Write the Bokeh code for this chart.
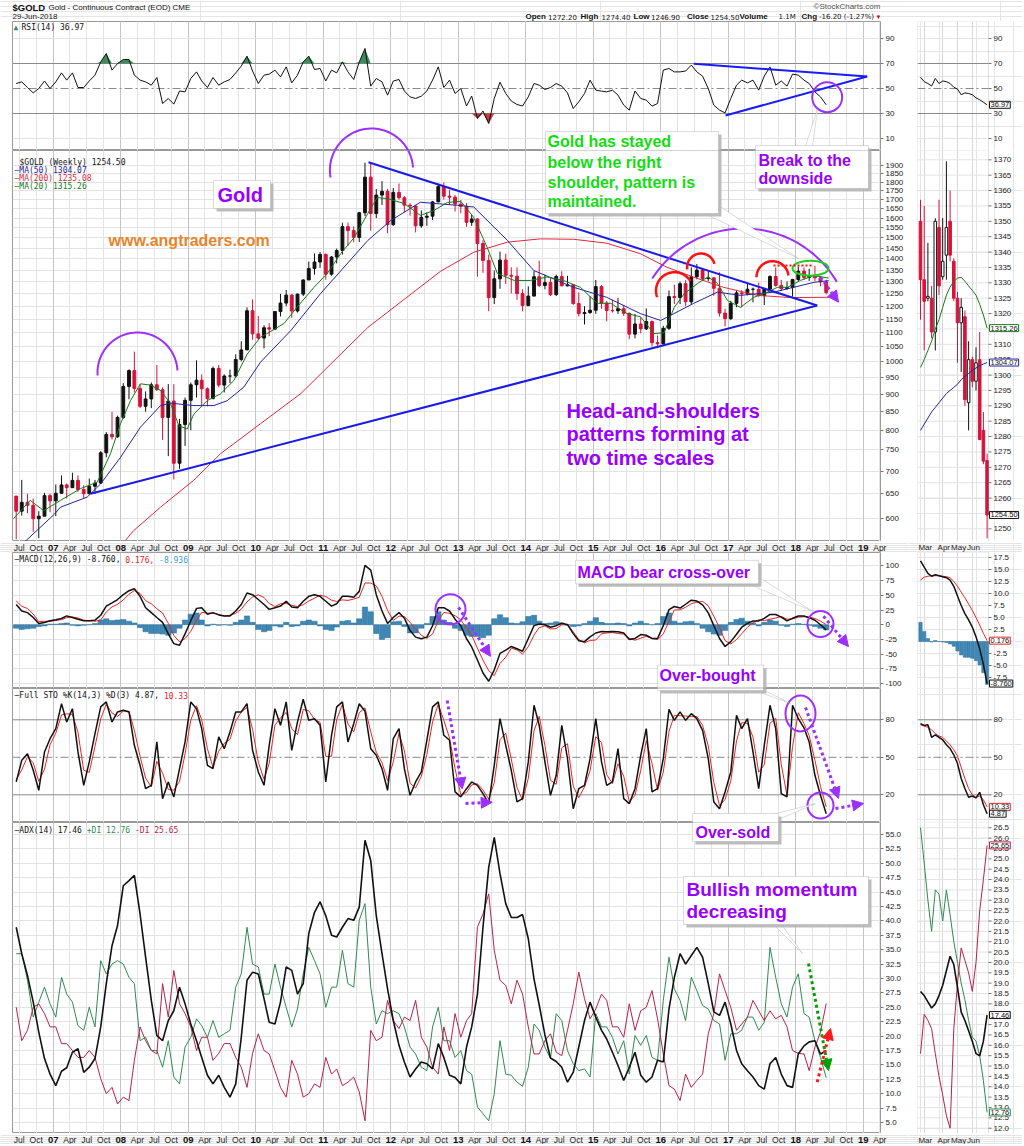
import math
import numpy as np
import pandas as pd
from bokeh.plotting import figure
from bokeh.layouts import column, row
from bokeh.models import (Range1d, FixedTicker, PrintfTickFormatter, Label, LabelSet,
                          BoxAnnotation, PolyAnnotation, Arrow, NormalHead, Span, Grid,
                          ColumnDataSource)
from bokeh.core.properties import value
from bokeh.embed import file_html
from bokeh.resources import INLINE

# ===================== DATA =====================
month_start = "2006-06-01"   # monthly samples, Jun 2006 .. Jun 2018

gold_first_open = 645.0
gold_close = [614, 632, 626, 599, 604, 646, 635,
              651, 669, 663, 679, 659, 650, 666, 673, 743, 789, 783, 834,
              923, 972, 917, 865, 886, 928, 913, 834, 880, 718, 815, 882,
              928, 942, 916, 887, 979, 927, 955, 955, 1008, 1040, 1182, 1096,
              1081, 1118, 1113, 1179, 1212, 1244, 1181, 1248, 1307, 1357, 1386, 1421,
              1332, 1409, 1439, 1556, 1536, 1502, 1628, 1829, 1624, 1725, 1746, 1566,
              1740, 1710, 1669, 1664, 1560, 1604, 1610, 1687, 1774, 1719, 1713, 1675,
              1663, 1578, 1595, 1472, 1393, 1234, 1312, 1395, 1327, 1323, 1250, 1202,
              1240, 1321, 1284, 1296, 1246, 1322, 1282, 1287, 1210, 1171, 1175, 1184,
              1279, 1212, 1183, 1182, 1190, 1172, 1095, 1132, 1114, 1141, 1065, 1061,
              1116, 1238, 1234, 1291, 1217, 1321, 1350, 1313, 1316, 1272, 1173, 1152,
              1211, 1253, 1249, 1268, 1268, 1242, 1269, 1322, 1284, 1271, 1275, 1309,
              1345, 1318, 1325, 1316, 1299, 1254.5]
gold_high = [645, 680, 650, 640, 614, 652, 650,
             670, 690, 672, 696, 690, 668, 683, 680, 747, 795, 849, 839,
             933, 976, 1034, 930, 908, 935, 990, 920, 930, 930, 830, 890,
             935, 1005, 960, 920, 985, 990, 960, 975, 1025, 1070, 1195, 1227,
             1162, 1127, 1135, 1180, 1249, 1265, 1248, 1250, 1310, 1388, 1425, 1432,
             1425, 1413, 1448, 1576, 1577, 1557, 1633, 1917, 1923, 1760, 1805, 1760,
             1765, 1792, 1720, 1680, 1670, 1640, 1630, 1692, 1790, 1798, 1755, 1725,
             1697, 1680, 1617, 1600, 1488, 1420, 1348, 1434, 1424, 1362, 1362, 1268,
             1280, 1345, 1392, 1330, 1315, 1330, 1345, 1325, 1290, 1255, 1200, 1240,
             1307, 1285, 1220, 1225, 1232, 1205, 1175, 1170, 1157, 1191, 1145, 1090,
             1125, 1263, 1287, 1300, 1306, 1362, 1377, 1360, 1345, 1320, 1340, 1190,
             1221, 1264, 1264, 1296, 1275, 1296, 1272, 1327, 1362, 1307, 1301, 1312,
             1366, 1362, 1356, 1369, 1322, 1308]
gold_low = [560, 605, 610, 574, 562, 604, 612,
            604, 650, 640, 663, 654, 640, 650, 650, 671, 732, 776, 780,
            830, 885, 905, 860, 850, 860, 910, 775, 735, 681, 705, 760,
            800, 890, 865, 865, 885, 920, 905, 933, 950, 1002, 1044, 1075,
            1075, 1045, 1088, 1110, 1160, 1200, 1155, 1175, 1240, 1307, 1330, 1360,
            1308, 1325, 1380, 1420, 1462, 1478, 1480, 1610, 1535, 1600, 1670, 1523,
            1560, 1700, 1630, 1613, 1527, 1550, 1560, 1590, 1685, 1700, 1670, 1635,
            1625, 1555, 1560, 1321, 1338, 1180, 1208, 1270, 1290, 1251, 1225, 1180,
            1200, 1240, 1277, 1268, 1240, 1240, 1282, 1280, 1205, 1160, 1130, 1170,
            1170, 1190, 1142, 1175, 1170, 1162, 1077, 1080, 1098, 1110, 1052, 1046,
            1058, 1110, 1208, 1208, 1200, 1208, 1310, 1305, 1302, 1241, 1160, 1123,
            1146, 1196, 1195, 1243, 1215, 1237, 1204, 1262, 1278, 1260, 1266, 1238,
            1302, 1307, 1303, 1302, 1281, 1247]

ma20_dates = [2006.41, 2006.66, 2006.86, 2007.108, 2007.404, 2007.652, 2007.849, 2007.997,
              2008.145, 2008.293, 2008.441, 2008.59, 2008.738, 2008.861, 2008.985, 2009.083,
              2009.281, 2009.479, 2009.676, 2009.874, 2010.071, 2010.17, 2010.42, 2010.61,
              2010.86, 2011.06, 2011.26, 2011.46, 2011.66, 2011.8, 2011.95, 2012.2, 2012.44,
              2012.64, 2012.84, 2013.04, 2013.23, 2013.43, 2013.58, 2013.83, 2014.07, 2014.32,
              2014.56, 2014.81, 2015.06, 2015.26, 2015.5, 2015.7, 2015.9, 2016.05, 2016.2,
              2016.35, 2016.55, 2016.7, 2016.84, 2016.99, 2017.18, 2017.38, 2017.58, 2017.73,
              2017.88, 2018.07, 2018.27, 2018.49]
ma20_vals = [599, 636, 615, 636, 661, 675, 741, 817,
             881, 931, 927, 911, 873, 812, 803, 843,
             881, 901, 941, 1026, 1084, 1097, 1134, 1195,
             1275, 1335, 1425, 1502, 1624, 1711, 1705, 1678, 1614,
             1640, 1684, 1690, 1604, 1453, 1335, 1305, 1305, 1320,
             1305, 1276, 1211, 1211, 1171, 1159, 1097, 1100, 1195,
             1250, 1293, 1320, 1293, 1222, 1195, 1235, 1256, 1276,
             1276, 1305, 1326, 1315.26]
ma50_dates = [2006.556, 2007.01, 2007.108, 2007.504, 2007.701, 2007.997, 2008.293, 2008.59,
              2008.738, 2009.083, 2009.379, 2009.578, 2009.824, 2010.071, 2010.52, 2010.96,
              2011.66, 2012.0, 2012.44, 2012.99, 2013.23, 2013.73, 2014.12, 2014.71, 2015.2,
              2015.7, 2016.0, 2016.49, 2016.84, 2017.18, 2017.67, 2017.97, 2018.27, 2018.49]
ma50_vals = [553, 607, 622, 643, 671, 732, 808, 867,
             874, 867, 867, 881, 921, 999, 1108, 1250,
             1487, 1587, 1685, 1668, 1659, 1487, 1348, 1276, 1235,
             1171, 1145, 1211, 1256, 1243, 1256, 1276, 1297, 1304.07]
ma200_dates = [2008.07, 2008.19, 2008.59, 2009.08, 2009.48, 2010.07, 2010.67, 2011.66, 2012.74,
               2013.23, 2013.73, 2014.22, 2014.71, 2015.2, 2015.7, 2016.09, 2016.49, 2016.93,
               2017.43, 2017.92, 2018.49]
ma200_vals = [558, 576, 622, 679, 741, 817, 902, 1119, 1345,
              1431, 1479, 1495, 1493, 1474, 1424, 1363, 1319, 1276,
              1243, 1234, 1235.08]

rsi14 = [54, 55.3, 50.8, 46.5, 50, 56, 50, 55.3, 62.5, 56.7,
         62.5, 50.8, 50.8, 56, 60.7, 71.3, 78, 64.7, 70, 73.2,
         73.2, 60.7, 56.7, 55.3, 52.7, 58.8, 38, 42, 37.5, 48,
         47.3, 58, 63.3, 56, 50.8, 58.8, 52.7, 55.3, 57.2, 62.5,
         67.9, 75.9, 64, 54, 60.7, 61.5, 64.7, 59.3, 67.3, 54.5,
         60.7, 71.3, 75.9, 65.2, 66, 56, 64.7, 62.5, 71.3, 63.3,
         57.2, 71.3, 82, 51.9, 58, 55.3, 44.7, 56, 57.2, 48,
         43.3, 42, 43.9, 48, 56.7, 67.3, 50.8, 56.7, 46, 50,
         36, 44, 26, 32, 22, 42, 55, 46, 40, 37.2,
         36, 43.3, 54, 52.7, 49.2, 50.8, 54, 51.9, 46.5, 34,
         39.3, 46, 56.7, 48.7, 47.9, 47.3, 48.7, 44.7, 36.7, 32.7,
         48, 42, 40.7, 35.9, 38, 64.7, 66, 63.3, 63.3, 64,
         68.7, 63.3, 59.9, 50, 36.7, 32.7, 30.5, 42, 52.7, 56.7,
         54.5, 56.7, 48.7, 59.9, 67.3, 52.7, 56, 51.9, 61.5, 60.7,
         56.7, 54, 47.3, 43.3, 36.97]

macd_line = [34.4, 23.3, 20.6, 12.2, 2.2, 3.9, 6.7, 8.3, 10.6, 15,
             12.2, 9.4, 6.7, 6.7, 7.8, 16.1, 31.7, 37.2, 42.8, 51.1,
             57.8, 61.1, 48.3, 28.9, 20.6, 12.2, 3.9, -15.6, -32.2, -35,
             -15.6, 6.7, 27.8, 28.9, 17.8, 20.6, 16.7, 15, 15, 23.3,
             34.4, 53.9, 51.1, 42.8, 34.4, 26.1, 28.9, 31.7, 40, 30,
             28.9, 40, 48.3, 51.1, 48.3, 40, 31.7, 35.6, 48.3, 48.3,
             46.7, 56.7, 101, 92.8, 51.1, 23.3, 2.2, 12.2, 20.6, 11.1,
             -10, -21.1, -23.9, -21.1, -1.7, 28.9, 28.9, 23.3, 9.4, -1.7,
             -23.9, -37.8, -60, -82.2, -96.1, -76.7, -48.9, -43.3, -37, -40.8,
             -45.1, -23.4, -1.6, 1.1, 0, -4.3, -1.6, 2.7, 0, -15.2,
             -27.2, -28.8, -20.7, -14.1, -11.4, -12, -11.4, -12, -14.1, -25,
             -23.4, -16.8, -17.9, -23.4, -23.4, -1.6, 25.5, 31, 28.3, 34.8,
             41.8, 40.2, 33.7, 20.1, -1.6, -23.4, -37, -28.8, -16.3, -4.3,
             2.2, 6.5, 6.5, 10.9, 17.4, 17.4, 13, 6.5, 10.9, 14.7,
             14.7, 12, 7.6, 0, -8.76]
macd_signal = [40.4, 31.3, 27.6, 18.2, 5.2, 5.9, 5.7, 7.3, 8.6, 12,
               13.2, 11.4, 7.7, 6.7, 5.8, 8.1, 21.7, 30.2, 34.8, 42.1,
               51.8, 58.1, 53.3, 40.9, 35.6, 27.2, 19.9, 2.4, -18.2, -29,
               -23.6, -11.3, 7.8, 20.9, 19.8, 19.6, 17.7, 15, 16, 19.3,
               26.4, 38.9, 47.1, 50.8, 46.4, 36.1, 30.9, 35.7, 36, 33,
               30.9, 34, 40.3, 45.1, 50.3, 48, 41.7, 39.6, 42.3, 41.3,
               43.7, 46.7, 71, 70.8, 66.1, 48.3, 24.2, 7.2, 14.6, 14.1,
               4, -7.1, -17.9, -23.1, -15.7, 6.9, 20.9, 19.3, 15.4, 8.3,
               -5.9, -17.8, -40, -60.2, -78.1, -86.7, -65.9, -55.3, -40, -42.8,
               -50.1, -37.4, -17.6, -4.9, -2, -7.3, -6.6, -0.3, 1, -12.2,
               -25.2, -30.8, -26.7, -26.1, -15.4, -14, -13.4, -15, -16.1, -23,
               -26.4, -22.8, -19.9, -23.4, -25.4, -15.6, 5.5, 25, 25.3, 29.8,
               35.8, 38.2, 39.7, 32.1, 14.4, -5.4, -27, -32.8, -25.3, -15.3,
               -4.4, 3.5, 8.5, 6.9, 9.4, 11.4, 14, 9.5, 9.9, 12.7,
               13.7, 13, 10.6, 6, 0.176]
macd_hist = [-6, -8, -7, -6, -3, -2, 1, 1, 2, 3,
             -1, -2, -1, 0, 2, 8, 10, 7, 8, 9,
             6, 3, -5, -12, -15, -15, -16, -18, -14, -6,
             8, 18, 20, 8, -2, 1, -1, 0, -1, 4,
             8, 15, 4, -8, -12, -10, -2, -4, 4, -3,
             -2, 6, 8, 6, -2, -8, -10, -4, 6, 7,
             3, 10, 30, 22, -15, -25, -22, 5, 6, -3,
             -14, -14, -6, 2, 14, 22, 8, 4, -6, -10,
             -18, -20, -20, -22, -18, 10, 17, 12, 3, 2,
             5, 14, 16, 6, 2, 3, 5, 3, -1, -3,
             -2, 2, 6, 12, 4, 2, 2, 3, 2, -2,
             3, 6, 2, 0, 2, 14, 20, 6, 3, 5,
             6, 2, -6, -12, -16, -18, -10, 4, 9, 11,
             6, 3, -2, 4, 8, 6, -1, -3, 1, 2,
             1, -1, -3, -6, -8.936]

sto_k = [30.3, 47.6, 52.9, 39.6, 23.6, 54.3, 64.9, 72.9, 92.9, 78.3,
         88.9, 54.3, 27.6, 46.3, 68.9, 90.3, 94.3, 78.3, 86.3, 87.6,
         86.3, 59.6, 43.6, 24.9, 27.6, 62.3, 16.9, 30.3, 18.3, 40.9,
         62.3, 94.3, 88.9, 72.9, 43.6, 40.9, 66.3, 56.9, 70.3, 86.3,
         86.3, 92.9, 55.6, 38.3, 27.6, 59.6, 88.9, 75.6, 94.3, 55.6,
         78.3, 96.4, 79.6, 80.9, 75.6, 30.3, 67.6, 90.3, 94.3, 62.3,
         76.9, 92.9, 86.8, 56.9, 51.6, 40.9, 23.6, 64.9, 72.9, 40.9,
         19.6, 30.3, 38.3, 63.6, 90.3, 94.3, 67.6, 63.6, 22.3, 18.3,
         24.9, 30.3, 27.6, 20.9, 12.9, 43.6, 80.9, 59.6, 39.6, 14.3,
         16.9, 46.3, 91.6, 75.6, 46.3, 19.6, 35.6, 75.6, 48.9, 8.9,
         24.9, 27.6, 48.9, 80.9, 46.3, 27.6, 30.3, 56.9, 16.9, 12.9,
         24.9, 51.6, 72.9, 22.3, 24.9, 48.9, 88.4, 79.6, 86.3, 79.6,
         84.9, 80.9, 71.6, 48.9, 14.3, 8.9, 22.3, 38.3, 83.6, 72.9,
         80.9, 54.3, 24.9, 59.6, 91.6, 72.9, 20.9, 18.3, 91.6, 80.9,
         73.5, 62.3, 35.6, 19.6, 4.87]
sto_d = [32, 40, 50.5, 45.6, 30.8, 40.5, 60.1, 69.3, 83.9, 84.8,
         84.3, 69.9, 39.6, 37.9, 58.7, 80.7, 92.5, 85.5, 82.7, 87,
         86.9, 71.6, 50.8, 33.3, 26.4, 46.7, 37.3, 24.3, 23.7, 30.7,
         52.7, 79.9, 91.3, 80.1, 56.8, 42.1, 54.9, 61.2, 64.3, 79.1,
         86.3, 89.9, 72.4, 46.1, 32.4, 45.2, 75.7, 81.6, 85.9, 73,
         68.1, 88.3, 87.2, 80.3, 78, 50.7, 50.8, 80.1, 92.5, 76.7,
         70.3, 85.7, 89.6, 70.4, 54, 45.7, 31.4, 46.3, 69.3, 55.3,
         29.2, 25.5, 34.7, 52.2, 78.3, 92.5, 79.6, 65.4, 40.9, 20.1,
         21.9, 27.9, 28.8, 23.9, 16.5, 29.8, 64.1, 69.2, 48.6, 25.7,
         15.7, 33.1, 71.2, 82.8, 59.5, 31.6, 28.4, 57.6, 60.9, 26.9,
         17.7, 26.4, 39.3, 66.5, 61.9, 36, 29.1, 44.9, 34.9, 14.7,
         19.5, 39.6, 63.3, 45, 23.7, 38.1, 70.6, 83.6, 83.3, 83,
         82.5, 82.7, 75.6, 59.1, 29.9, 11.3, 16.3, 31.1, 63.2, 77.7,
         77.3, 66.3, 38.1, 44, 77.2, 81.3, 44.3, 19.5, 58.6, 85.7,
         76.9, 67.4, 47.6, 26.8, 10.33]

adx14 = [38.9, 34.3, 30.5, 25.9, 20.7, 16.1, 13.4, 11.4, 13.9, 14.5,
         17.2, 17.8, 13.7, 14.6, 16.1, 21.6, 29.1, 35.7, 39.2, 46.1,
         47, 47.9, 41.2, 33.7, 26.2, 20.1, 19.2, 22.7, 24.4, 28.5,
         25.6, 22.1, 19.2, 16.3, 13.2, 11.7, 13.2, 11.1, 9.4, 11.7,
         19.8, 29.7, 31.1, 30.8, 26.5, 22.4, 22.1, 25.9, 32, 31.4,
         27.3, 29.1, 37.8, 41.5, 43.3, 40.9, 37.5, 37.2, 38.9, 40.4,
         40.1, 42.4, 54, 50.5, 40.9, 34.3, 28.2, 22.7, 18.4, 15.5,
         12.9, 14.3, 15.5, 15.2, 14.3, 18.7, 16.3, 13.2, 12.8, 11.7,
         18.1, 21.6, 27.3, 38.9, 49.3, 54.5, 48.2, 43, 40.6, 40.6,
         41.1, 36.9, 29.9, 25.4, 20.2, 16.2, 15.6, 14.6, 12, 13.7,
         18.1, 22.7, 25.9, 23.3, 21, 19.5, 17.2, 14.9, 12.3, 14.6,
         17.2, 13.2, 12, 12.9, 15.8, 15.5, 24.7, 30.2, 34.3, 32.5,
         34, 35.4, 33.7, 29.1, 24.2, 23.6, 25.9, 22.1, 17.5, 15.2,
         14, 12.9, 11.4, 10.8, 15.2, 16.3, 13.4, 11.4, 11.1, 16.9,
         18.3, 19, 19.2, 16.9, 17.46]
plus_di = [34.3, 34.3, 29.7, 23.3, 25.9, 28.5, 25.6, 23.3, 30.2, 27.3,
           25.9, 21.8, 21, 25, 21.6, 33.1, 30.8, 32.5, 33.1, 32.5,
           30.2, 29.1, 19.2, 19.8, 17.5, 17.5, 14.6, 19.2, 12.9, 11.7,
           18.1, 19.8, 23, 21.8, 19.8, 22.7, 19.8, 20.4, 21, 28.5,
           30.8, 38.9, 32.5, 32, 27.3, 27.3, 32.5, 28.5, 25, 21.6,
           24.7, 30.8, 35.4, 33.1, 30.8, 25, 28.5, 28.5, 34.9, 29.1,
           28.5, 40.1, 43, 28.5, 22.1, 24.4, 23.9, 24.4, 23.9, 21.6,
           18.1, 16.9, 14.6, 14, 21.6, 25, 19.2, 19.2, 16.3, 17.5,
           14, 13.4, 7.7, 6.5, 5.3, 10, 19.2, 13.4, 13.2, 12,
           11.3, 14.6, 22.1, 21, 18.1, 16.1, 23.9, 22.7, 17.5, 15.2,
           14, 14.3, 12.9, 23.9, 21.6, 21.6, 19.8, 16.9, 19.2, 13.4,
           20.1, 18.4, 20.1, 16.3, 15.8, 26.2, 33.7, 28.2, 26.2, 22.7,
           30.2, 27.9, 25.3, 24.7, 22.7, 22.1, 15.8, 20.4, 20.4, 21,
           23.3, 23.3, 21, 22.4, 35.4, 30.2, 25.6, 23.3, 28.5, 30.8,
           23.9, 23.3, 19.2, 16.3, 12.76]
minus_di = [25, 19.2, 21, 25, 25.6, 23.9, 21.6, 21.6, 18.7, 18.7,
            17.5, 16.3, 16.3, 17.5, 16.3, 12.6, 10, 11.1, 8.2, 9.4,
            8.8, 15.8, 21.6, 19.2, 17.5, 16.9, 29.1, 23.3, 31.4, 25.6,
            23.9, 21.6, 17.5, 19.8, 19.8, 15.8, 17, 18.7, 18.7, 16.3,
            14.6, 11.1, 17, 20.4, 17.5, 16.9, 14, 11.1, 9.4, 15.8,
            13.4, 9.4, 10, 11.7, 11.1, 16.3, 13.4, 14.3, 11.4, 12,
            12.9, 10.3, 5.3, 21, 19.2, 19.8, 26.2, 22.7, 21.3, 23.3,
            22.7, 26.2, 19.8, 18.1, 14.6, 13.4, 21.6, 17.5, 23.9, 19.8,
            22.7, 23.9, 38.9, 41.2, 44.7, 34.9, 29.7, 28.8, 25.6, 29.7,
            27.3, 21.6, 16.9, 16.9, 19.2, 20.4, 17.2, 16.6, 21, 25.6,
            31.1, 26.5, 23, 24.7, 27.3, 26.2, 21.6, 21.6, 19.8, 25.6,
            21, 24.4, 25, 27.9, 23, 16.9, 11.4, 10.8, 8.8, 13.4,
            11.1, 12.3, 13.4, 20.4, 23.9, 30.8, 27.9, 25, 21, 22.1,
            23.3, 26.2, 24.4, 22.7, 24.4, 23, 23.6, 21.6, 17.5, 17,
            16.9, 14, 18.1, 20.7, 25.65]

# ---- right-hand zoom panel: last 19 weekly bars (23-Feb-2018 .. 29-Jun-2018) ----
wk_open = [1350, 1331, 1325, 1325, 1314, 1348, 1332, 1339, 1350, 1337, 1325, 1317, 1319, 1291, 1305, 1298, 1305, 1282, 1272.2]
wk_high = [1357, 1355, 1343, 1329, 1351, 1357, 1351, 1369.5, 1360, 1338, 1327, 1325, 1321, 1311, 1306, 1309, 1314, 1288, 1274.4]
wk_low = [1318, 1308, 1324, 1312, 1308, 1326, 1331, 1331, 1337, 1324, 1304, 1301, 1290, 1282, 1296, 1295, 1279, 1271, 1246.9]
wk_close = [1331, 1324, 1325.6, 1314, 1350, 1329, 1337, 1348, 1339, 1325, 1317, 1322, 1292, 1305, 1298, 1304, 1279, 1272, 1254.5]
wk_ma20 = [1302.5, 1305, 1308, 1311, 1315, 1318, 1322, 1326, 1328.6, 1330.5, 1331.5, 1331.8, 1330.5, 1329, 1327.5, 1326, 1323, 1319.5, 1315.26]
wk_ma50 = [1282, 1284, 1286, 1288, 1289.5, 1291, 1292.5, 1294, 1295, 1296, 1297, 1298.5, 1299.5, 1300.5, 1301.5, 1302.3, 1303, 1303.6, 1304.07]
wk_rsi = [59, 55.5, 54, 52, 58, 54, 56, 55.5, 54, 51, 49.5, 45, 46.5, 46, 45, 42.5, 41, 39, 36.97]
wk_macd = [16.8, 15.5, 14.2, 13.6, 13.9, 13.7, 13.5, 13.3, 12.8, 11.5, 9.5, 7.5, 5.8, 4.5, 3.0, 1.0, -1.5, -4.8, -8.76]
wk_signal = [12.8, 13.4, 13.6, 13.7, 13.7, 13.7, 13.6, 13.5, 13.3, 12.5, 11.5, 10.3, 9.1, 7.8, 6.5, 5.0, 3.4, 1.7, 0.176]
wk_hist = [4.0, 2.1, 0.6, -0.1, 0.2, 0.0, -0.1, -0.2, -0.5, -1.0, -2.0, -2.8, -3.3, -3.3, -3.5, -4.0, -4.9, -6.5, -8.936]
wk_k = [77, 75.5, 76, 66, 68, 66, 64, 60, 57, 52, 45, 33, 25, 18, 19, 17.5, 22, 12, 4.87]
wk_d = [76, 75, 74, 72, 69, 67, 66, 63, 60, 56, 51, 42, 33, 25, 20, 18, 19, 16, 10.33]
wk_adx = [18.6, 18.4, 18.1, 17.8, 18.0, 18.4, 18.9, 19.6, 20.3, 19.9, 18.8, 17.6, 17.2, 16.7, 16.2, 15.6, 15.5, 16.2, 17.46]
wk_pdi = [26.5, 24.8, 23, 21.5, 23.5, 23.3, 22, 23.5, 22.3, 21, 20, 19, 18.2, 17.2, 16.4, 16.2, 15.5, 14.3, 12.76]
wk_mdi = [15.6, 17.5, 17.2, 16.8, 15.6, 14.5, 13.6, 12.6, 12.0, 16.8, 19.0, 20.7, 20.1, 19.5, 18.6, 20.0, 22.5, 24.0, 25.65]

# ---- tick labels ----
price_ticks = list(range(600, 1901, 50))
zoom_price_ticks = list(range(1250, 1371, 5))
rsi_ticks = [10, 30, 50, 70, 90]
macd_ticks = [-100, -75, -50, -25, 0, 25, 50, 75, 100]
sto_ticks = [20, 50, 80]
adx_ticks = [5.0, 7.5, 10.0, 12.5, 15.0, 17.5, 20.0, 22.5, 25.0, 27.5, 30.0, 32.5, 35.0, 37.5,
             40.0, 42.5, 45.0, 47.5, 50.0, 52.5, 55.0]
zoom_macd_ticks = [-7.5, -5.0, -2.5, 2.5, 5.0, 7.5, 10.0, 12.5, 15.0, 17.5]
zoom_adx_ticks = [12.0, 12.5, 13.0, 13.5, 14.0, 14.5, 15.0, 15.5, 16.0, 16.5, 17.0, 17.5, 18.0, 18.5,
                  19.0, 19.5, 20.0, 20.5, 21.0, 21.5, 22.0, 22.5, 23.0, 23.5, 24.0, 24.5, 25.0,
                  25.5, 26.0, 26.5]
month_names = ["Apr", "Jul", "Oct"]
year_labels = ["07", "08", "09", "10", "11", "12", "13", "14", "15", "16", "17", "18", "19"]
zoom_month_labels = ["Mar", "Apr", "May", "Jun"]
zoom_month_weeks = [1, 6, 10, 14]

for arr in (gold_high, gold_low, rsi14, macd_line, macd_signal, macd_hist, sto_k, sto_d,
            adx14, plus_di, minus_di):
    assert len(arr) == len(gold_close), len(arr)

# ===================== helpers =====================
def dec_year(ts):
    a = pd.Timestamp(ts.year, 1, 1)
    b = pd.Timestamp(ts.year + 1, 1, 1)
    return ts.year + (ts - a) / (b - a)

months = pd.date_range(month_start, periods=len(gold_close), freq="MS")
mx = np.array([dec_year(m + pd.Timedelta(days=14)) for m in months])
wx = list(range(len(wk_close)))

# reference-pixel -> data coordinate maps (used only to place annotations)
def yr(px): return 2007.0 + (px - 52.7) / 67.5
def pr(py): return 1900.0 * math.exp(-(py - 165.0) / 306.0)
def rs(py): return (150.5 - py) / 1.25
def mc(py): return (625.7 - py) / 0.6
def st(py): return (819.3 - py) / 1.25
def ad(py): return 5.0 + (1122.0 - py) / 5.76
def zp(py): return 1370.0 - (py - 159.3) / 3.075
def zm(py): return (641.0 - py) / 4.8
def za(py): return 12.0 + (1127.7 - py) / 20.72
def wk(px): return (px - 920.0) / 3.7

# page geometry (the page has no body margin, so page px == reference px)
W_MAIN, W_ZOOM = 908, 114
BL_M, BR_M = 12, 28
H_HEAD = 21
H_RSI, H_PRICE, H_STRIP1, H_MACD, H_STO, H_ADX, H_STRIP2 = 129, 391, 11, 136, 134, 311, 11

XR = Range1d(yr(12.0), yr(880.0))
ZX0, ZX1 = wk(917.0), wk(988.0)
ZR = Range1d(wk(917.0), wk(1022.0))

RSI_Y = (rs(150.0), rs(21.0))
PRICE_Y = (pr(541.0), pr(150.0))
MACD_Y = (-108.5, mc(552.0))
STO_Y = (st(822.0), st(688.0))
ADX_Y = (ad(1133.0), ad(822.0))
ZP_Y = (zp(541.0), zp(150.0))
ZM_Y = (zm(688.0), zm(552.0))
ZA_Y = (za(1133.0), za(822.0))

FONT = "Liberation Sans"
HFONT = "DejaVu Sans"
MONO = "DejaVu Sans Mono"
PURPLE = "#9900ff"
ARC_PURPLE = "#9b30ff"
GRID = "#e3e3e3"


def bare(width, height, xr, yrange, bl=0, br=0):
    p = figure(width=width, height=height, x_range=xr, y_range=Range1d(*yrange),
               x_axis_location=None, y_axis_location=None,
               output_backend="svg", toolbar_location=None,
               min_border_left=bl, min_border_right=br, min_border_top=0, min_border_bottom=0)
    p.outline_line_color = None
    p.background_fill_color = "white"
    p.border_fill_color = "white"
    return p


def panel(frame_h, yrange, ticks, fmt, log=False):
    p = figure(width=W_MAIN, height=frame_h, x_range=XR, y_range=Range1d(*yrange),
               y_axis_type="log" if log else "linear",
               x_axis_location=None, y_axis_location="right",
               output_backend="svg", toolbar_location=None,
               min_border_left=BL_M, min_border_right=BR_M, min_border_top=0, min_border_bottom=0)
    p.outline_line_color = "#9a9a9a"
    p.background_fill_color = "white"
    p.border_fill_color = "white"
    ax = p.yaxis[0]
    ax.ticker = FixedTicker(ticks=ticks, minor_ticks=[])
    ax.formatter = PrintfTickFormatter(format=fmt)
    ax.axis_line_color = None
    ax.major_tick_line_color = "#777777"
    ax.major_tick_in = 0
    ax.major_tick_out = 3
    ax.minor_tick_line_color = None
    ax.major_label_text_font = FONT
    ax.major_label_text_font_size = "8px"
    ax.major_label_text_color = "#222222"
    ax.major_label_standoff = 2
    p.ygrid.grid_line_color = GRID
    p.add_layout(Grid(dimension=0, ticker=FixedTicker(ticks=q_pos), grid_line_color=GRID))
    p.add_layout(Grid(dimension=0, ticker=FixedTicker(ticks=y_pos), grid_line_color="#c4c4c4"))
    return p


def zpanel(frame_h, yrange, ticks, fmt, gridlines=True):
    p = bare(W_ZOOM, frame_h, ZR, yrange, bl=9)
    p.add_layout(Grid(dimension=0, ticker=FixedTicker(ticks=zoom_month_weeks),
                      grid_line_color="#d8d8d8"))
    n = len(ticks)
    if gridlines:
        p.segment(x0=[ZX0] * n, y0=ticks, x1=[ZX1] * n, y1=ticks, line_color=GRID, line_width=1)
    p.segment(x0=[ZX1] * n, y0=ticks, x1=[wk(991.0)] * n, y1=ticks, line_color="#777777",
              line_width=1)
    lo, hi = yrange
    for t in ticks:
        d_top = (hi - t) / (hi - lo) * frame_h
        d_bot = (t - lo) / (hi - lo) * frame_h
        base = "top" if d_top < 5 else ("bottom" if d_bot < 5 else "middle")
        p.add_layout(Label(x=wk(993.0), y=t, text=fmt % t, text_font=FONT, text_font_size="8px",
                           text_color="#222222", text_align="left", text_baseline=base))
    p.add_layout(BoxAnnotation(left=ZX0, right=ZX1, fill_alpha=0, line_color="#9a9a9a",
                               line_width=1))
    return p


# quarter / year tick positions on the main time axis
q_pos, q_txt, y_pos, y_txt = [], [], [], []
for yy in range(2006, 2020):
    t = dec_year(pd.Timestamp(yy, 1, 1))
    if XR.start <= t <= XR.end:
        y_pos.append(t)
        y_txt.append(year_labels[yy - 2007])
    for mo, name in zip((4, 7, 10), month_names):
        t = dec_year(pd.Timestamp(yy, mo, 1))
        if XR.start <= t <= XR.end:
            q_pos.append(t)
            q_txt.append(name)

# ===================== figures =====================
header = bare(W_MAIN + W_ZOOM, H_HEAD, Range1d(0, W_MAIN + W_ZOOM), (0, H_HEAD))
rsi_m = panel(H_RSI, RSI_Y, rsi_ticks, "%d")
rsi_z = zpanel(H_RSI, RSI_Y, rsi_ticks, "%d", gridlines=False)
price_m = panel(H_PRICE, PRICE_Y, price_ticks, "%d", log=True)
price_z = zpanel(H_PRICE, ZP_Y, zoom_price_ticks, "%d")
strip1_m = bare(W_MAIN, H_STRIP1, Range1d(yr(0.0), yr(908.0)), (0, H_STRIP1))
strip1_z = bare(W_ZOOM, H_STRIP1, Range1d(wk(908.0), wk(1022.0)), (0, H_STRIP1))
macd_m = panel(H_MACD, MACD_Y, macd_ticks, "%d")
macd_z = zpanel(H_MACD, ZM_Y, zoom_macd_ticks, "%.1f")
sto_m = panel(H_STO, STO_Y, sto_ticks, "%d")
sto_z = zpanel(H_STO, STO_Y, sto_ticks, "%d", gridlines=False)
adx_m = panel(H_ADX, ADX_Y, adx_ticks, "%.1f")
adx_z = zpanel(H_ADX, ZA_Y, zoom_adx_ticks, "%.1f")
strip2_m = bare(W_MAIN, H_STRIP2, Range1d(yr(0.0), yr(908.0)), (0, H_STRIP2))
strip2_z = bare(W_ZOOM, H_STRIP2, Range1d(wk(908.0), wk(1022.0)), (0, H_STRIP2))

for p in (rsi_m, sto_m):
    p.ygrid.grid_line_color = None
RSI_LEVELS = ((90, "solid", GRID), (10, "solid", GRID), (70, "solid", "#8a8a8a"),
              (30, "solid", "#8a8a8a"), (50, "8 3 2 3", "#8a8a8a"))
STO_LEVELS = ((80, "solid", "#8a8a8a"), (20, "solid", "#8a8a8a"), (50, "8 3 2 3", "#8a8a8a"))
for p, levels in ((rsi_m, RSI_LEVELS), (sto_m, STO_LEVELS)):
    for lvl, dash, col in levels:
        p.add_layout(Span(location=lvl, dimension="width", line_color=col, line_dash=dash,
                          line_width=1, level="underlay"))
for p, levels in ((rsi_z, RSI_LEVELS), (sto_z, STO_LEVELS)):
    for lvl, dash, col in levels:
        p.line([ZX0, ZX1], [lvl, lvl], line_color=col, line_dash=dash, line_width=1)

# ---- RSI ----
rsi_arr = np.array(rsi14, dtype=float)
rsi_m.varea(x=mx, y1=70, y2=np.maximum(rsi_arr, 70), fill_color="#3f8a5c")
rsi_m.varea(x=mx, y1=np.minimum(rsi_arr, 30), y2=30, fill_color="#c03a3a")
rsi_m.line(mx, rsi14, line_color="#111111", line_width=1)
rsi_z.line(wx, wk_rsi, line_color="#111111", line_width=1)

# ---- price candles ----
opens = [gold_first_open] + list(gold_close[:-1])
BLACK, RED = "#111111", "#d4143c"
csrc = ColumnDataSource(dict(
    x=mx, h=gold_high, l=gold_low,
    top=[max(o, c) for o, c in zip(opens, gold_close)],
    bot=[min(o, c) for o, c in zip(opens, gold_close)],
    lc=[BLACK if c >= o else RED for o, c in zip(opens, gold_close)]))
price_m.segment(x0="x", y0="l", x1="x", y1="h", line_color="lc", line_width=1, source=csrc)
price_m.vbar(x="x", width=0.042, top="top", bottom="bot", fill_color="lc", line_color="lc",
             line_width=1, source=csrc)
price_m.line(ma200_dates, ma200_vals, line_color="#e0283c", line_width=1)
price_m.line(ma50_dates, ma50_vals, line_color="#23239e", line_width=1)
price_m.line(ma20_dates, ma20_vals, line_color="#16781a", line_width=1)

zsrc = ColumnDataSource(dict(
    x=wx, h=wk_high, l=wk_low,
    top=[max(o, c) for o, c in zip(wk_open, wk_close)],
    bot=[min(o, c) for o, c in zip(wk_open, wk_close)],
    lc=[BLACK if c >= o else RED for o, c in zip(wk_open, wk_close)],
    fc=["white" if c >= o else RED for o, c in zip(wk_open, wk_close)]))
price_z.segment(x0="x", y0="l", x1="x", y1="h", line_color="lc", line_width=1, source=zsrc)
price_z.vbar(x="x", width=0.7, top="top", bottom="bot", fill_color="fc", line_color="lc",
             line_width=1, source=zsrc)
price_z.line(wx, wk_ma20, line_color="#16781a", line_width=1)
price_z.line(wx, wk_ma50, line_color="#23239e", line_width=1)

# ---- MACD ----
macd_m.vbar(x=mx, width=1 / 12 * 0.95, top=macd_hist, bottom=0, fill_color="#3f88b6",
            line_color="#2b6f99", line_width=0.5)
macd_m.line(mx, macd_signal, line_color="#ee2222", line_width=1)
macd_m.line(mx, macd_line, line_color="#111111", line_width=1.5)
macd_z.vbar(x=wx, width=0.9, top=wk_hist, bottom=0, fill_color="#3f88b6", line_color="#2b6f99",
            line_width=0.5)
macd_z.line(wx, wk_signal, line_color="#ee2222", line_width=1)
macd_z.line(wx, wk_macd, line_color="#111111", line_width=1.5)

# ---- Full STO ----
sto_m.line(mx, sto_d, line_color="#ee2222", line_width=1)
sto_m.line(mx, sto_k, line_color="#111111", line_width=1.5)
sto_z.line(wx, wk_d, line_color="#ee2222", line_width=1)
sto_z.line(wx, wk_k, line_color="#111111", line_width=1.5)

# ---- ADX ----
DI_G, DI_R = "#2e8a50", "#b8204a"
adx_m.line(mx, plus_di, line_color=DI_G, line_width=1)
adx_m.line(mx, minus_di, line_color=DI_R, line_width=1)
adx_m.line(mx, adx14, line_color="#111111", line_width=1.6)
adx_z.line(wx, wk_pdi, line_color=DI_G, line_width=1)
adx_z.line(wx, wk_mdi, line_color=DI_R, line_width=1)
adx_z.line(wx, wk_adx, line_color="#111111", line_width=1.6)

# ===================== annotations =====================
M = {"rsi": (rsi_m, rs), "price": (price_m, pr), "macd": (macd_m, mc),
     "sto": (sto_m, st), "adx": (adx_m, ad)}


def a_label(keys, x, y, text, size="9px", color="#111111", bold=False, font=FONT, align="left"):
    for k in keys:
        p, fy = M[k]
        p.add_layout(Label(x=yr(x), y=fy(y), text=text, text_font=font, text_font_size=size,
                           text_color=color, text_font_style="bold" if bold else "normal",
                           text_align=align, text_baseline="middle"))


def a_box(keys, x0, y0, x1, y1):
    for k in keys:
        p, fy = M[k]
        p.add_layout(BoxAnnotation(left=yr(x0 + 3), right=yr(x1 + 3), top=fy(y0 + 3),
                                   bottom=fy(y1 + 3), fill_color="#b5b5b5", fill_alpha=0.9,
                                   line_color=None))
        p.add_layout(BoxAnnotation(left=yr(x0), right=yr(x1), top=fy(y0), bottom=fy(y1),
                                   fill_color="white", fill_alpha=1.0, line_color="#8c8c8c",
                                   line_width=1))


def a_poly(keys, pts):
    for k in keys:
        p, fy = M[k]
        p.add_layout(PolyAnnotation(xs=[yr(a) for a, b in pts], ys=[fy(b) for a, b in pts],
                                    fill_color="white", fill_alpha=1.0, line_color="#8c8c8c",
                                    line_width=1))


def a_arrow(keys, x0, y0, x1, y1, color):
    for k in keys:
        p, fy = M[k]
        p.add_layout(Arrow(x_start=yr(x0), y_start=fy(y0), x_end=yr(x1), y_end=fy(y1),
                           line_color=color, line_width=3, line_dash="3 3",
                           end=NormalHead(size=11, fill_color=color, line_color=color)))


def g_ellipse(keys, x, y, w, h, color, lw=2):
    for k in keys:
        p, fy = M[k]
        p.ellipse(x=[yr(x)], y=[fy(y)], width=w, height=h, width_units="screen",
                  height_units="screen", fill_color=None, line_color=color, line_width=lw)


def g_arc(keys, cx, cy, r, a0, a1, color, lw=2):
    ts = np.linspace(a0, a1, 48)
    for k in keys:
        p, fy = M[k]
        p.line([yr(cx + r * math.cos(t)) for t in ts], [fy(cy - r * math.sin(t)) for t in ts],
               line_color=color, line_width=lw)


def g_seg(keys, x0, y0, x1, y1, color, lw=2, dash="solid"):
    for k in keys:
        p, fy = M[k]
        p.line([yr(x0), yr(x1)], [fy(y0), fy(y1)], line_color=color, line_width=lw, line_dash=dash)


# ---- header strip (x = page px, y measured up from the strip bottom) ----
def h_label(x, y, text, size="8.5px", color="#111111", bold=False, font=FONT):
    header.add_layout(Label(x=x, y=y, text=text, text_font=font, text_font_size=size,
                            text_color=color, text_font_style="bold" if bold else "normal",
                            text_align="left", text_baseline="middle"))


h_label(12, 14.5, "$GOLD", size="9.5px", bold=True)
h_label(48, 14.5, "Gold - Continuous Contract (EOD) CME", size="8px")
h_label(12, 5, "29-Jun-2018", size="8px")
h_label(813, 15, "\u00a9StockCharts.com", size="8px", color="#555555")
for x, t, b in ((525, "Open", True), (547.5, "1272.20", False), (580, "High", True),
                (601, "1274.40", False), (633, "Low", True), (650.5, "1246.90", False),
                (686.5, "Close", True), (710, "1254.50", False), (739, "Volume", True),
                (778, "1.1M", False), (801, "Chg", True), (818.5, "-16.20 (-1.27%)", False)):
    if b:
        h_label(x, 5, t, size="8px", bold=True, font=FONT)
    else:
        h_label(x, 5, t, size="7px", font=HFONT)
h_label(875, 5, "\u25bc", size="6px", color="#cc0000")

# ---- panel legends ----
CW = 4.82
def legend_row(key, y, parts, x=14):
    for text, col in parts:
        a_label([key], x, y, text, size="8px", color=col, font=MONO)
        x += (len(text) + 1) * CW

legend_row("rsi", 27, [("\u25b2", "#3f8a5c")], x=13)
legend_row("rsi", 27, [("RSI(14) 36.97", "#111111")], x=21)
legend_row("price", 161.5, [("$GOLD (Weekly) 1254.50", "#111111")], x=19)
legend_row("price", 169.5, [("\u2014MA(50) 1304.07", "#23239e")])
legend_row("price", 177.7, [("\u2014MA(200) 1235.08", "#e0283c")])
legend_row("price", 186.0, [("\u2014MA(20) 1315.26", "#16781a")])
legend_row("macd", 559, [("\u2014MACD(12,26,9) -8.760,", "#111111"), ("0.176,", "#ee2222"),
                         ("-8.936", "#39a0d8")])
legend_row("sto", 695, [("\u2014Full STO %K(14,3) %D(3) 4.87,", "#111111"), ("10.33", "#ee2222")])
legend_row("adx", 830, [("\u2014ADX(14) 17.46", "#111111"), ("+DI 12.76", DI_G),
                        ("-DI 25.65", DI_R)])

# RSI trend lines + circle
g_seg(["rsi"], 693.3, 63.3, 866.7, 76.0, "#1a1aff", 2)
g_seg(["rsi"], 725.0, 115.0, 866.7, 76.0, "#1a1aff", 2)
g_ellipse(["rsi"], 826.7, 96.7, 30, 30, ARC_PURPLE)

# price: triangle, arcs, marks
g_seg(["price"], 90.0, 493.3, 816.7, 305.0, "#1a1ae6", 2)
g_seg(["price"], 368.0, 161.7, 816.7, 305.0, "#1a1ae6", 2)
g_arc(["price"], 137, 372, 40, 0.05, 3.217, ARC_PURPLE)
g_arc(["rsi", "price"], 371, 169.6, 41.6, 0.063, 3.32, ARC_PURPLE)
g_arc(["price"], 743, 336.3, 108.3, 0.532, 2.573, ARC_PURPLE)
g_arc(["price"], 674, 290.2, 18.5, 0.541, 3.50, "#ff1111", 2.5)
g_arc(["price"], 700.5, 266.9, 13.9, 0.262, 3.28, "#ff1111", 2.5)
g_arc(["price"], 772, 276.7, 16, 0.105, 3.14, "#ff1111", 2.5)
g_ellipse(["price"], 810, 267.7, 36, 15, "#22cc22")
g_seg(["price"], 773, 265, 813, 265, "#ff1111", 2, "2 2")
a_arrow(["price"], 820, 276.7, 838, 301.7, ARC_PURPLE)

# "Gold" and web address
a_box(["price"], 213, 180, 270, 208)
a_label(["price"], 217, 194.5, "Gold", size="20px", color=PURPLE, bold=True)
a_label(["price"], 108, 240, "www.angtraders.com", size="16px", color="#e8842a", bold=True)

# green callout (box spans RSI / price)
a_poly(["price"], [(704, 213), (718, 205), (798, 258)])
a_box(["rsi", "price"], 545, 131, 718, 213)
a_label(["rsi"], 547, 140.5, "Gold has stayed", size="16px", color="#11dd11", bold=True)
a_label(["price"], 547, 162, "below the right", size="16px", color="#11dd11", bold=True)
a_label(["price"], 547, 181.5, "shoulder, pattern is", size="16px", color="#11dd11", bold=True)
a_label(["price"], 547, 201, "maintained.", size="16px", color="#11dd11", bold=True)

# "Break to the downside" callout
a_poly(["rsi"], [(805, 146), (812, 146), (817, 108)])
a_box(["rsi", "price"], 755, 145, 868, 188)
a_label(["price"], 758, 160, "Break to the", size="16px", color=PURPLE, bold=True)
a_label(["price"], 758, 178, "downside", size="16px", color=PURPLE, bold=True)

# H&S text
a_label(["price"], 566, 410, "Head-and-shoulders", size="20px", color=PURPLE, bold=True)
a_label(["price"], 566, 433.5, "patterns forming at", size="20px", color=PURPLE, bold=True)
a_label(["price"], 566, 457, "two time scales", size="20px", color=PURPLE, bold=True)

# MACD annotations
g_ellipse(["macd"], 450, 610, 30, 30, ARC_PURPLE)
a_arrow(["macd"], 458, 608, 490, 658, ARC_PURPLE)
g_ellipse(["macd"], 820, 625, 26, 26, ARC_PURPLE)
a_arrow(["macd"], 823, 617, 848, 648, ARC_PURPLE)
a_poly(["macd"], [(748, 584), (758, 577), (812, 612)])
a_box(["macd"], 575, 560, 758, 584)
a_label(["macd"], 577, 572, "MACD bear cross-over", size="16px", color=PURPLE, bold=True)

# STO annotations
a_arrow(["sto"], 446.7, 700, 461.7, 788.3, ARC_PURPLE)
a_arrow(["sto"], 465, 803, 491.7, 801.7, ARC_PURPLE)
g_ellipse(["sto"], 800, 713, 30, 36, ARC_PURPLE)
g_ellipse(["sto"], 820, 805, 26, 26, ARC_PURPLE)
a_arrow(["sto"], 805, 707, 838, 798, ARC_PURPLE)
a_arrow(["sto"], 835, 808, 863, 803, ARC_PURPLE)
a_poly(["sto"], [(752, 689), (762, 689), (790, 703)])
a_box(["macd", "sto"], 657, 667, 763, 690)
a_label(["macd"], 659, 677.5, "Over-bought", size="16px", color=PURPLE, bold=True)
a_poly(["sto"], [(768, 815), (778, 819), (815, 803)])
a_box(["sto", "adx"], 692, 813, 778, 841)
a_label(["adx"], 695, 832, "Over-sold", size="16px", color=PURPLE, bold=True)

# ADX annotations
a_poly(["adx"], [(773, 924), (781, 924), (802, 953)])
a_box(["adx"], 683, 876, 868, 924)
a_label(["adx"], 686, 889, "Bullish momentum", size="19px", color=PURPLE, bold=True)
a_label(["adx"], 686, 911, "decreasing", size="19px", color=PURPLE, bold=True)
a_arrow(["adx"], 808, 963, 828, 1070, "#00a000")
a_arrow(["adx"], 816.7, 1081.7, 830, 1028, "#ff1a1a")

# ---- time-axis label strips ----
def main_xlabels(p, yv):
    p.add_layout(LabelSet(x="x", y="y", text="t",
                          source=ColumnDataSource(dict(x=q_pos, y=[yv] * len(q_pos), t=q_txt)),
                          text_font=value(FONT), text_font_size="8.5px", text_color="#222222",
                          text_align="center", text_baseline="middle"))
    p.add_layout(LabelSet(x="x", y="y", text="t",
                          source=ColumnDataSource(dict(x=y_pos, y=[yv] * len(y_pos), t=y_txt)),
                          text_font=value(FONT), text_font_size="9.5px", text_font_style="bold",
                          text_color="#111111", text_align="center", text_baseline="middle"))


def zoom_xlabels(p, yv):
    xs = [w + 0.3 for w in zoom_month_weeks]
    p.add_layout(LabelSet(x="x", y="y", text="t",
                          source=ColumnDataSource(dict(x=xs, y=[yv] * len(xs), t=zoom_month_labels)),
                          text_font=value(FONT), text_font_size="8px", text_color="#222222",
                          text_align="center", text_baseline="middle"))


main_xlabels(strip1_m, 6.0)
main_xlabels(strip2_m, 5.5)
zoom_xlabels(strip1_z, 6.0)
zoom_xlabels(strip2_z, 5.5)

# ---- boxed last-value tags on the zoom panels ----
def tag(p, yv, text, color):
    p.add_layout(Label(x=wk(989.0), y=yv, text=text, text_font=FONT, text_font_size="7.5px",
                       text_color="#111111", text_align="left", text_baseline="middle",
                       background_fill_color="white", border_line_color=color,
                       border_line_width=1, padding=1))


tag(price_z, 1315.26, "1315.26", "#16781a")
tag(price_z, 1304.07, "1304.07", "#23239e")
tag(price_z, 1254.50, "1254.50", "#111111")
tag(rsi_z, 36.97, "36.97", "#111111")
tag(macd_z, 0.176, "0.176", "#ee2222")
tag(macd_z, -8.76, "-8.760", "#111111")
tag(sto_z, 10.33, "10.33", "#ee2222")
tag(sto_z, 4.87, "4.87", "#111111")
tag(adx_z, 25.65, "25.65", DI_R)
tag(adx_z, 17.46, "17.46", "#111111")
tag(adx_z, 12.76, "12.76", DI_G)

layout = column(
    header,
    row(rsi_m, rsi_z, spacing=0),
    row(price_m, price_z, spacing=0),
    row(strip1_m, strip1_z, spacing=0),
    row(macd_m, macd_z, spacing=0),
    row(sto_m, sto_z, spacing=0),
    row(adx_m, adx_z, spacing=0),
    row(strip2_m, strip2_z, spacing=0),
    spacing=0)

open("out.html", "w").write(file_html(layout, INLINE, "Gold - Continuous Contract"))
